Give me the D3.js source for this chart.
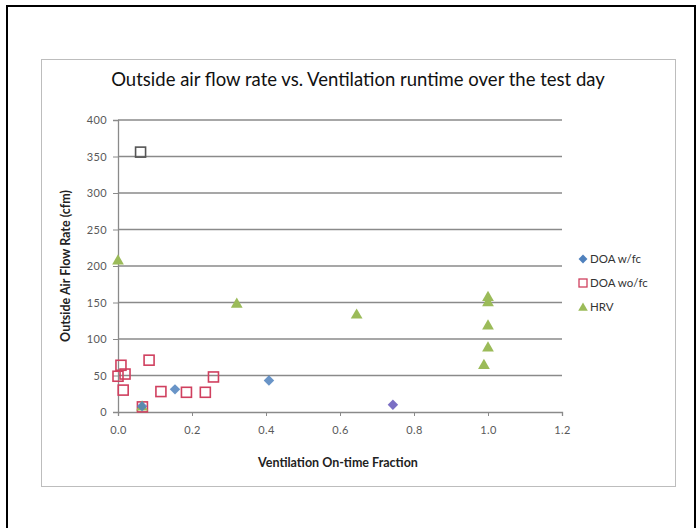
<!DOCTYPE html>
<html>
<head>
<meta charset="utf-8">
<script src="https://cdn.jsdelivr.net/npm/d3@7"></script>
<style>
  html, body { margin: 0; padding: 0; background: #fff; }
  svg { display: block; }
</style>
</head>
<body>
<svg id="chart" width="700" height="528"></svg>
<script>
// ---- Data ----
const xTicks = [0.0, 0.2, 0.4, 0.6, 0.8, 1.0, 1.2];
const yTicks = [0, 50, 100, 150, 200, 250, 300, 350, 400];
const seriesNames = ["DOA w/fc", "DOA wo/fc", "HRV"];

// DOA w/fc (diamonds): [fraction, cfm]
const doaWfc = [[0.065, 8], [0.154, 31], [0.408, 43]];
const doaWfcLate = [[0.743, 10]];
// DOA wo/fc (squares)
const doaWofc = [
  [0.0, 49], [0.008, 64], [0.019, 52], [0.014, 30], [0.084, 71],
  [0.066, 7], [0.116, 28], [0.185, 27], [0.236, 27], [0.258, 48]
];
// outlier square (dark outline)
const outlier = [[0.061, 356]];
// HRV (triangles)
const hrv = [
  [0.0, 208], [0.065, 8], [0.321, 149], [0.645, 134],
  [1.0, 158], [1.0, 151], [1.0, 119], [1.0, 89], [0.989, 65]
];

// ---- Drawing ----
const svg = d3.select("#chart");
const font = "Lato, 'Open Sans', 'Liberation Sans', sans-serif";

// outer frame
svg.append("path")
  .attr("d", "M7,540 L7,6 L695,6 L695,540")
  .attr("fill", "none").attr("stroke", "#000").attr("stroke-width", 2);

// chart box
svg.append("rect")
  .attr("x", 41.5).attr("y", 59.5).attr("width", 634).attr("height", 427)
  .attr("fill", "#fff").attr("stroke", "#bdbdbd").attr("stroke-width", 1);

const x = d3.scaleLinear().domain([0, 1.2]).range([118, 562]);
const y = d3.scaleLinear().domain([0, 400]).range([412, 120]);

// gridlines
svg.append("g").selectAll("line")
  .data(yTicks.filter(d => d > 0))
  .join("line")
  .attr("x1", x(0)).attr("x2", x(1.2))
  .attr("y1", d => y(d)).attr("y2", d => y(d))
  .attr("stroke", "#8a8a8a").attr("stroke-width", 1.3);

// y axis
const yAxis = svg.append("g")
  .attr("transform", `translate(${x(0)},0)`)
  .call(d3.axisLeft(y).tickValues(yTicks).tickSize(5).tickPadding(6).tickFormat(d3.format("d")));
yAxis.select(".domain").attr("stroke", "#8a8a8a").attr("stroke-width", 1.3);
yAxis.selectAll(".tick line").attr("stroke", "#8a8a8a");
yAxis.selectAll("text").attr("fill", "#595959").attr("font-size", 11).attr("letter-spacing", 0.4).attr("font-family", font);

// x axis
const xAxis = svg.append("g")
  .attr("transform", `translate(0,${y(0)})`)
  .call(d3.axisBottom(x).tickValues(xTicks).tickSize(4).tickPadding(10).tickFormat(d3.format(".1f")));
xAxis.select(".domain").attr("stroke", "#8a8a8a").attr("stroke-width", 1.3);
xAxis.selectAll(".tick line").attr("stroke", "#8a8a8a");
xAxis.selectAll("text").attr("fill", "#595959").attr("font-size", 11).attr("letter-spacing", 0.4).attr("font-family", font);

// title
svg.append("text")
  .attr("x", 358).attr("y", 86)
  .attr("text-anchor", "middle")
  .attr("font-family", font).attr("font-size", 18.5).attr("fill", "#111")
  .text("Outside air flow rate vs. Ventilation runtime over the test day");

// axis titles
svg.append("text")
  .attr("x", 338).attr("y", 467)
  .attr("text-anchor", "middle")
  .attr("font-family", font).attr("font-size", 12.5).attr("font-weight", "bold").attr("fill", "#222")
  .text("Ventilation On-time Fraction");
svg.append("text")
  .attr("transform", "translate(70,266) rotate(-90)")
  .attr("text-anchor", "middle")
  .attr("font-family", font).attr("font-size", 12.5).attr("font-weight", "bold").attr("fill", "#222")
  .text("Outside Air Flow Rate (cfm)");

// symbols
const diamond = d3.symbol().type(d3.symbolDiamond2 || d3.symbolDiamond).size(70);
const triangle = d3.symbol().type(d3.symbolTriangle).size(60);

const blue = "#4f81bd", red = "#d0405f", green = "#9bbb59", purple = "#7b6fc4";

// DOA wo/fc squares
svg.append("g").selectAll("rect")
  .data(doaWofc).join("rect")
  .attr("x", d => x(d[0]) - 5).attr("y", d => y(d[1]) - 5)
  .attr("width", 10).attr("height", 10)
  .attr("fill", "none").attr("stroke", red).attr("stroke-width", 1.6);

svg.append("g").selectAll("rect")
  .data(outlier).join("rect")
  .attr("x", d => x(d[0]) - 5).attr("y", d => y(d[1]) - 5)
  .attr("width", 10).attr("height", 10)
  .attr("fill", "none").attr("stroke", "#555").attr("stroke-width", 1.6);

// HRV triangles
svg.append("g").selectAll("path")
  .data(hrv).join("path")
  .attr("transform", d => `translate(${x(d[0])},${y(d[1]) + 1})`)
  .attr("d", triangle)
  .attr("fill", green);

// DOA w/fc diamonds
svg.append("g").selectAll("path")
  .data(doaWfc).join("path")
  .attr("transform", d => `translate(${x(d[0])},${y(d[1])})`)
  .attr("d", diamond)
  .attr("fill", blue).attr("fill-opacity", 0.85);
svg.append("g").selectAll("path")
  .data(doaWfcLate).join("path")
  .attr("transform", d => `translate(${x(d[0])},${y(d[1])})`)
  .attr("d", diamond)
  .attr("fill", purple);

// legend
const lg = svg.append("g").attr("transform", "translate(583,0)");
const legendY = [259, 283, 307];
lg.append("path").attr("transform", `translate(0,${legendY[0]})`)
  .attr("d", d3.symbol().type(d3.symbolDiamond2 || d3.symbolDiamond).size(50)).attr("fill", blue);
lg.append("rect").attr("x", -4).attr("y", legendY[1] - 4).attr("width", 8).attr("height", 8)
  .attr("fill", "none").attr("stroke", red).attr("stroke-width", 1.3);
lg.append("path").attr("transform", `translate(0,${legendY[2] + 1})`)
  .attr("d", d3.symbol().type(d3.symbolTriangle).size(40)).attr("fill", green);
lg.selectAll("text.leg")
  .data(seriesNames).join("text")
  .attr("class", "leg")
  .attr("x", 7).attr("y", (d, i) => legendY[i] + 4)
  .attr("font-family", font).attr("font-size", 11.5).attr("fill", "#333")
  .text(d => d);
</script>
</body>
</html>
